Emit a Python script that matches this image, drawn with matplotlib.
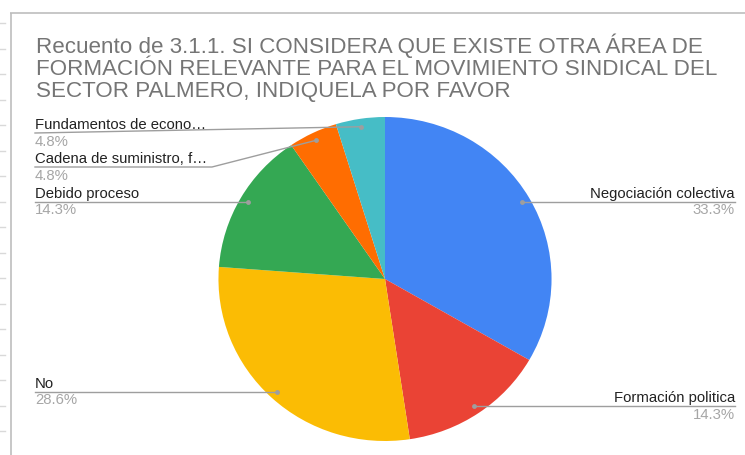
import matplotlib
matplotlib.use("Agg")
import matplotlib.pyplot as plt
from matplotlib.transforms import Affine2D
import numpy as np

# ---------------- data ----------------
title_lines = [
    "Recuento de 3.1.1. SI CONSIDERA QUE EXISTE OTRA ÁREA DE",
    "FORMACIÓN RELEVANTE PARA EL MOVIMIENTO SINDICAL DEL",
    "SECTOR PALMERO, INDIQUELA POR FAVOR",
]
categories = ["Negociación colectiva", "Formación politica", "No",
              "Debido proceso", "Cadena de suministro, f…", "Fundamentos de econo…"]
counts = [7, 3, 6, 3, 1, 1]
colors = ["#4285F4", "#EA4335", "#FBBC04", "#34A853", "#FF6D01", "#46BDC6"]

# label layout (pixel units, y from top)
label_side = ["right", "right", "left", "left", "left", "left"]
label_line_y = [None, None, None, None, 167, 133]   # None -> same as dot
label_elbow_x = [None, None, None, None, 212, None]

FONT = ["Liberation Sans", "DejaVu Sans"]
plt.rcParams["font.family"] = FONT

W, H = 745, 455
fig = plt.figure(figsize=(W / 100, H / 100), dpi=100)
ax = fig.add_axes([0, 0, 1, 1])


def Y(py):
    return H - py


cx, cy, R, SX = 385, 279, 162, 1.028
wedges, _ = ax.pie(counts, colors=colors, startangle=90, counterclock=False,
                   center=(cx, Y(cy)), radius=R,
                   wedgeprops=dict(linewidth=0))
ax.set_xlim(0, W)
ax.set_ylim(0, H)
ax.set_aspect("auto")
ax.axis("off")
stretch = Affine2D().translate(-cx, -Y(cy)).scale(SX, 1).translate(cx, Y(cy))
for w in wedges:
    w.set_transform(stretch + ax.transData)

# frame of the sheet embed
ax.plot([10, W], [Y(13), Y(13)], color="#bdbdbd", lw=1.2, solid_capstyle="butt")
ax.plot([10.5, 10.5], [Y(13), 0], color="#bdbdbd", lw=1.2, solid_capstyle="butt")
for ty in np.arange(23, 455, 25.5):
    ax.plot([0, 5], [Y(ty), Y(ty)], color="#d9d9d9", lw=1)

# title
for i, line in enumerate(title_lines):
    ax.text(36, Y(53 + 22 * i), line, fontsize=16.1, color="#757575",
            ha="left", va="baseline")

total = sum(counts)
line_col = "#9e9e9e"
for i, w in enumerate(wedges):
    mid = np.deg2rad((w.theta1 + w.theta2) / 2)
    dx, dy = cx + SX * 154 * np.cos(mid), cy - 154 * np.sin(mid)   # pixel coords
    ly = label_line_y[i] if label_line_y[i] is not None else dy
    pct = f"{100 * counts[i] / total:.1f}%"
    if label_side[i] == "right":
        xs = [dx, 735]
        ys = [dy, ly]
        tx, ha = 735, "right"
    else:
        if label_elbow_x[i] is not None:
            xs = [35, label_elbow_x[i], dx]
            ys = [ly, ly, dy]
        else:
            xs = [35, dx]
            ys = [ly, dy]
        tx, ha = 35, "left"
    ax.plot(xs, [Y(v) for v in ys], color=line_col, lw=1)
    ax.plot([dx], [Y(dy)], "o", ms=3.5, color="#9e9e9e", mec="none")
    ax.text(tx, Y(ly - 4), categories[i], fontsize=10.7, color="#222222",
            ha=ha, va="baseline")
    ax.text(tx, Y(ly + 12.5), pct, fontsize=10.7, color="#a6a6a6",
            ha=ha, va="baseline")

fig.savefig("out.png", dpi=100, facecolor="white")
